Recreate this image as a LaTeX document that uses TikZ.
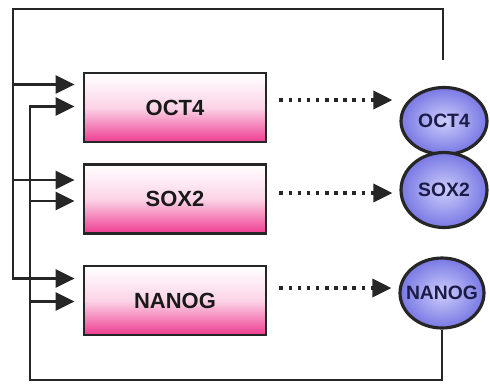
\documentclass[tikz,border=0pt]{standalone}
\usepackage{fontspec}
\setmainfont{Liberation Sans}
\usetikzlibrary{positioning,arrows.meta,shapes.geometric,calc}
\definecolor{genepink}{RGB}{238,60,145}
\definecolor{protin}{RGB}{205,205,252}
\definecolor{protout}{RGB}{120,120,228}
\definecolor{protext}{RGB}{28,28,72}
\tikzset{
    gene/.style={
        rectangle,
        draw=black!85,
        line width=1.6pt,
        top color=white,
        bottom color=genepink,
        middle color=genepink!22,
        minimum width=3.64cm,
        minimum height=1.38cm,
        text=black!90,
        font=\fontsize{12.5}{14}\selectfont\bfseries,
    },
    protein/.style={
        ellipse,
        draw=black!85,
        line width=1.8pt,
        inner color=protin,
        outer color=protout,
        inner sep=0pt,
    },
    protein label/.style={
        font=\fontsize{11}{13}\selectfont\bfseries,
        text=protext,
        inner sep=0pt,
    },
    wire/.style={
        line width=1.6pt,
        draw=black!85,
        line join=miter,
    },
    activates/.style={
        wire,
        -{Triangle[length=0.38cm,width=0.36cm]},
        shorten >=0.16cm,
    },
    produces/.style={
        wire,
        line width=2pt,
        dash pattern=on 2pt off 3.2pt,
        -{Triangle[length=0.38cm,width=0.36cm]},
        shorten <=0.24cm,
        shorten >=0.14cm,
    },
}

\begin{document}
\begin{tikzpicture}[x=0.02cm,y=-0.02cm]
    \useasboundingbox (0,0) rectangle (490,383);
    % genes
    \node[gene] (oct4) at (175,107.5) {OCT4};
    \node[gene] (sox2) at (175,199) {SOX2};
    \node[gene] (nanog) at (175,300.5) {NANOG};
    % proteins
    \node[protein,minimum width=1.72cm,minimum height=1.34cm,
          label={[protein label]center:OCT4}] (oct4 p) at (444,121) {};
    \node[protein,minimum width=1.72cm,minimum height=1.5cm,
          label={[protein label]center:SOX2}] (sox2 p) at (444,190) {};
    \node[protein,minimum width=1.68cm,minimum height=1.4cm,
          label={[protein label]center:NANOG}] (nanog p) at (442,293) {};
    % inputs of each gene
    \coordinate (oct4 in1) at ([yshift=0.46cm]oct4.west);
    \coordinate (oct4 in2) at ([yshift=0.02cm]oct4.west);
    \coordinate (sox2 in1) at ([yshift=0.38cm]sox2.west);
    \coordinate (sox2 in2) at ([yshift=-0.04cm]sox2.west);
    \coordinate (nanog in1) at ([yshift=0.44cm]nanog.west);
    \coordinate (nanog in2) at ([yshift=-0.02cm]nanog.west);
    \coordinate (fb top) at (443,60);
    \coordinate (left rail) at (13,9);
    \coordinate (inner rail) at (30,380);
    % feedback from the top
    \draw[activates] (fb top) |- (left rail) |- (nanog in1);
    \draw[activates] (left rail |- oct4 in1) -- (oct4 in1);
    \draw[activates] (left rail |- sox2 in1) -- (sox2 in1);
    % feedback from NANOG
    \draw[activates] (nanog p.south) |- (inner rail) |- (oct4 in2);
    \draw[activates] (inner rail |- sox2 in2) -- (sox2 in2);
    \draw[activates] (inner rail |- nanog in2) -- (nanog in2);
    % translation
    \draw[produces] ([yshift=0.15cm]oct4.east) -- ([yshift=0.15cm]oct4.east -| oct4 p.west);
    \draw[produces] ([yshift=0.12cm]sox2.east) -- ([yshift=0.12cm]sox2.east -| sox2 p.west);
    \draw[produces] ([yshift=0.25cm]nanog.east) -- ([yshift=0.25cm]nanog.east -| nanog p.west);
\end{tikzpicture}
\end{document}
